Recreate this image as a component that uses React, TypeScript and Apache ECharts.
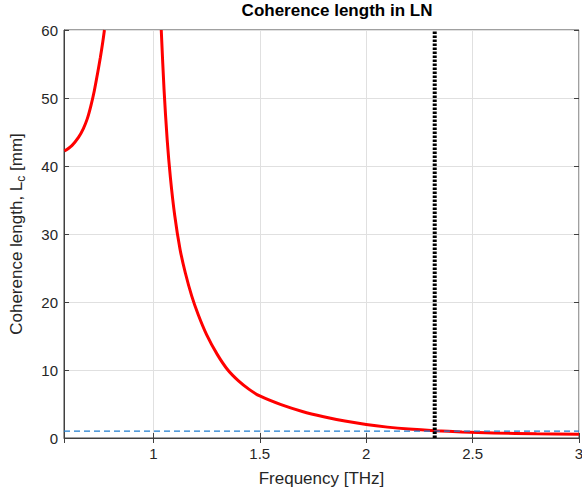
import React, { useEffect, useRef } from "react";
import * as echarts from "echarts";

// Left branch (below the phase-matching pole)
const freqLeft = [0.582, 0.617, 0.648, 0.671, 0.69, 0.706, 0.722, 0.737, 0.751, 0.762, 0.77];
const lcLeft = [42.2, 43.0, 44.2, 45.5, 47.0, 48.8, 51.0, 53.5, 56.0, 58.2, 60.0];

// Right branch (above the pole)
const freqRight = [
  1.037, 1.05, 1.065, 1.08, 1.1, 1.125, 1.15, 1.18, 1.21, 1.25, 1.3, 1.35, 1.4, 1.45, 1.5,
  1.6, 1.7, 1.8, 1.9, 2.0, 2.1, 2.2, 2.32, 2.45, 2.6, 2.8, 3.0,
];
const lcRight = [
  60, 51.3, 43.8, 38.3, 32.8, 27.8, 24.3, 20.9, 18.2, 15.2, 12.3, 10.0, 8.4, 7.15, 6.18,
  4.9, 3.9, 3.13, 2.49, 1.98, 1.6, 1.32, 1.08, 0.9, 0.75, 0.62, 0.54,
];

// Reference lines
const dashedLevel = 1; // mm
const dashedRange = [0.58, 3];
const markerFreq = 2.322; // THz
const markerRange = [0, 60];

const xRange = [0.58, 3];
const yRange = [0, 60];
const yStep = 10;

const FONT = "'Liberation Sans', Arial, Helvetica, sans-serif";
const AXIS_COLOR = "#404040";
const TEXT_COLOR = "#262626";
const GRID_COLOR = "#e0e0e0";

export default function App() {
  const ref = useRef<HTMLDivElement>(null);

  useEffect(() => {
    if (!ref.current) return;
    const chart = echarts.init(ref.current, undefined, { renderer: "svg" });

    const leftData = freqLeft.map((f, i) => [f, lcLeft[i]]);
    const rightData = freqRight.map((f, i) => [f, lcRight[i]]);

    const redLine = {
      type: "line",
      showSymbol: false,
      symbol: "none",
      smooth: 0.3,
      lineStyle: { color: "#ff0000", width: 3 },
      z: 2,
    };

    chart.setOption({
      animation: false,
      textStyle: { fontFamily: FONT },
      title: {
        text: "Coherence length in LN",
        left: 337,
        top: 2,
        padding: 0,
        textAlign: "center",
        textStyle: { fontSize: 17, fontWeight: "bold", color: "#000", fontFamily: FONT },
      },
      grid: {
        left: 64,
        right: 3,
        top: 30,
        bottom: 58,
        show: true,
        borderColor: AXIS_COLOR,
        borderWidth: 1,
        backgroundColor: "transparent",
        containLabel: false,
        outerBoundsMode: "none",
      },
      xAxis: [
        {
          type: "value",
          min: xRange[0],
          max: xRange[1],
          splitNumber: 5,
          position: "bottom",
          axisLine: { show: true, onZero: false, lineStyle: { color: AXIS_COLOR, width: 1 } },
          axisTick: { show: true, inside: true, length: 5, lineStyle: { color: AXIS_COLOR } },
          axisLabel: {
            showMinLabel: false,
            color: TEXT_COLOR,
            fontSize: 15,
            margin: 8,
            fontFamily: FONT,
          },
          splitLine: { show: true, lineStyle: { color: GRID_COLOR, width: 1 } },
          name: "Frequency [THz]",
          nameLocation: "middle",
          nameGap: 32,
          nameTextStyle: { fontSize: 17, color: TEXT_COLOR, fontFamily: FONT },
        },
        {
          type: "value",
          min: xRange[0],
          max: xRange[1],
          splitNumber: 5,
          position: "top",
          axisLine: { show: false },
          axisTick: { show: true, inside: true, length: 5, lineStyle: { color: AXIS_COLOR } },
          axisLabel: { show: false },
          splitLine: { show: false },
        },
      ],
      yAxis: [
        {
          type: "value",
          min: yRange[0],
          max: yRange[1],
          interval: yStep,
          position: "left",
          axisLine: { show: true, onZero: false, lineStyle: { color: AXIS_COLOR, width: 1 } },
          axisTick: { show: true, inside: true, length: 5, lineStyle: { color: AXIS_COLOR } },
          axisLabel: { color: TEXT_COLOR, fontSize: 15, margin: 6, fontFamily: FONT },
          splitLine: { show: true, lineStyle: { color: GRID_COLOR, width: 1 } },
          name: "Coherence length, L{s|c} [mm]",
          nameLocation: "middle",
          nameGap: 37,
          nameRotate: 90,
          nameTextStyle: {
            fontSize: 17,
            color: TEXT_COLOR,
            fontFamily: FONT,
            rich: {
              s: { fontSize: 12, color: TEXT_COLOR, fontFamily: FONT, padding: [10, 0, 0, 0] },
            },
          },
        },
        {
          type: "value",
          min: yRange[0],
          max: yRange[1],
          interval: yStep,
          position: "right",
          axisLine: { show: false },
          axisTick: { show: true, inside: true, length: 5, lineStyle: { color: AXIS_COLOR } },
          axisLabel: { show: false },
          splitLine: { show: false },
        },
      ],
      series: [
        { ...redLine, name: "Lc low", data: leftData },
        { ...redLine, name: "Lc high", data: rightData },
        {
          type: "line",
          name: "1 mm",
          showSymbol: false,
          symbol: "none",
          data: [
            [dashedRange[0], dashedLevel],
            [dashedRange[1], dashedLevel],
          ],
          lineStyle: { color: "#1f7fd0", width: 1.3, type: [6, 4] },
          z: 3,
        },
        {
          type: "line",
          name: "marker",
          showSymbol: false,
          symbol: "none",
          data: [
            [markerFreq, markerRange[0]],
            [markerFreq, markerRange[1]],
          ],
          lineStyle: { color: "#000", width: 4, type: [2.6, 1.4], cap: "butt" },
          z: 4,
        },
      ],
    });

    return () => chart.dispose();
  }, []);

  return (
    <div
      ref={ref}
      style={{ position: "absolute", left: 0, top: 0, width: 582, height: 496 }}
    />
  );
}
